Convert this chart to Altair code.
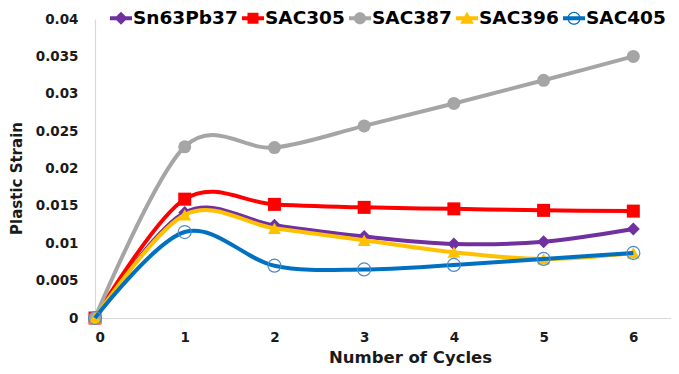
import altair as alt
import pandas as pd

# ---- data ----
cycles = [0, 1, 2, 3, 4, 5, 6]
series_names = ["Sn63Pb37", "SAC305", "SAC387", "SAC396", "SAC405"]
sn63pb37 = [0.0, 0.0141, 0.0124, 0.0109, 0.0099, 0.0102, 0.0119]
sac305 = [0.0, 0.0159, 0.0152, 0.0148, 0.0146, 0.0144, 0.0143]
sac387 = [0.0, 0.0229, 0.0228, 0.0257, 0.0287, 0.0318, 0.0350]
sac396 = [0.0, 0.0138, 0.0120, 0.0104, 0.0088, 0.0079, 0.0087]
sac405 = [0.0, 0.0115, 0.0070, 0.0065, 0.0071, 0.0079, 0.0087]
x_ticks = [0, 1, 2, 3, 4, 5, 6]
y_ticks = [0, 0.005, 0.01, 0.015, 0.02, 0.025, 0.03, 0.035, 0.04]

# ---- styles ----
colors = ["#7030A0", "#FF0000", "#A5A5A5", "#FFC000", "#0070C0"]
marker_shapes = ["diamond", "square", "circle", "triangle-up", "circle"]
marker_filled = [True, True, True, True, False]
marker_colors = ["#7030A0", "#FF0000", "#A5A5A5", "#FFC000", "#4A8BC9"]

LINE = "M-1,-0.18H1V0.18H-1Z"
legend_paths = [
    LINE + "M0,-0.6L0.6,0L0,0.6L-0.6,0Z",
    LINE + "M-0.5,-0.5H0.5V0.5H-0.5Z",
    LINE + "M0.55,0A0.55,0.55 0 1,1 -0.55,0A0.55,0.55 0 1,1 0.55,0Z",
    LINE + "M0,-0.62L0.62,0.5H-0.62Z",
    LINE + "M0.6,0A0.6,0.6 0 1,1 -0.6,0A0.6,0.6 0 1,1 0.6,0Z"
         + "M0.48,0A0.48,0.48 0 1,0 -0.48,0A0.48,0.48 0 1,0 0.48,0Z",
]

values = [sn63pb37, sac305, sac387, sac396, sac405]
rows = []
for name, vals in zip(series_names, values):
    for c, v in zip(cycles, vals):
        rows.append({"cycle": c, "strain": v, "series": name})
df = pd.DataFrame(rows)

FONT = "DejaVu Sans"
TXT = "#1a1a1a"

x_enc = alt.X(
    "cycle:Q",
    scale=alt.Scale(domain=[0, 6.42], nice=False, zero=False),
    axis=alt.Axis(
        values=x_ticks, format="d", ticks=False, grid=False,
        domainColor="#D9D9D9", domainWidth=1.2,
        labelFont=FONT, labelFontWeight="bold", labelFontSize=13.5,
        labelColor=TXT, labelPadding=12,
        title="Number of Cycles", titleFont=FONT, titleFontWeight="bold",
        titleFontSize=16.5, titleColor=TXT, titleX=315, titleY=44,
        titleAlign="center", titleBaseline="alphabetic",
    ),
)
y_enc = alt.Y(
    "strain:Q",
    scale=alt.Scale(domain=[0, 0.04], nice=False),
    axis=alt.Axis(
        values=y_ticks, format=".3~f", ticks=False, grid=False,
        domainColor="#D9D9D9", domainWidth=1.2,
        labelFont=FONT, labelFontWeight="bold", labelFontSize=13.5,
        labelColor=TXT, labelPadding=17,
        title="Plastic Strain", titleFont=FONT, titleFontWeight="bold",
        titleFontSize=15, titleColor=TXT, titleX=-74, titleY=159,
        titleAngle=270, titleAlign="center", titleBaseline="alphabetic",
    ),
)

layers = []
for i, name in enumerate(series_names):
    base = alt.Chart(df).transform_filter(alt.datum.series == name)
    line = base.mark_line(
        interpolate="cardinal", color=colors[i], strokeWidth=4
    ).encode(x=x_enc, y=y_enc)
    if marker_filled[i]:
        pts = base.mark_point(
            shape=marker_shapes[i], filled=True, size=169,
            color=marker_colors[i], opacity=1
        ).encode(x=x_enc, y=y_enc)
    else:
        pts = base.mark_point(
            shape=marker_shapes[i], filled=False, size=169,
            color=marker_colors[i], strokeWidth=1.2, opacity=1
        ).encode(x=x_enc, y=y_enc)
    layers += [line, pts]

leg = alt.Legend(
    orient="none", legendX=15, legendY=-12, direction="horizontal",
    symbolSize=484, symbolStrokeWidth=0, symbolOpacity=1,
    labelFont=FONT, labelFontWeight="bold", labelFontSize=18.5,
    labelColor="#000000", labelOffset=1, columnPadding=4, padding=0,
)
legend_layer = alt.Chart(df).mark_point(filled=True, opacity=0).encode(
    x=x_enc, y=y_enc,
    color=alt.Color("series:N", title=None,
                    scale=alt.Scale(domain=series_names, range=colors),
                    legend=leg),
    shape=alt.Shape("series:N", title=None,
                    scale=alt.Scale(domain=series_names, range=legend_paths),
                    legend=leg),
)

chart = alt.layer(*layers, legend_layer).properties(
    width=576, height=299,
    autosize=alt.AutoSizeParams(type="none"),
    padding={"left": 87, "top": 11, "right": 0, "bottom": 48},
    background="white",
).configure_view(stroke=None)

chart.save("out.html", embed_options={"renderer": "svg", "actions": False})
